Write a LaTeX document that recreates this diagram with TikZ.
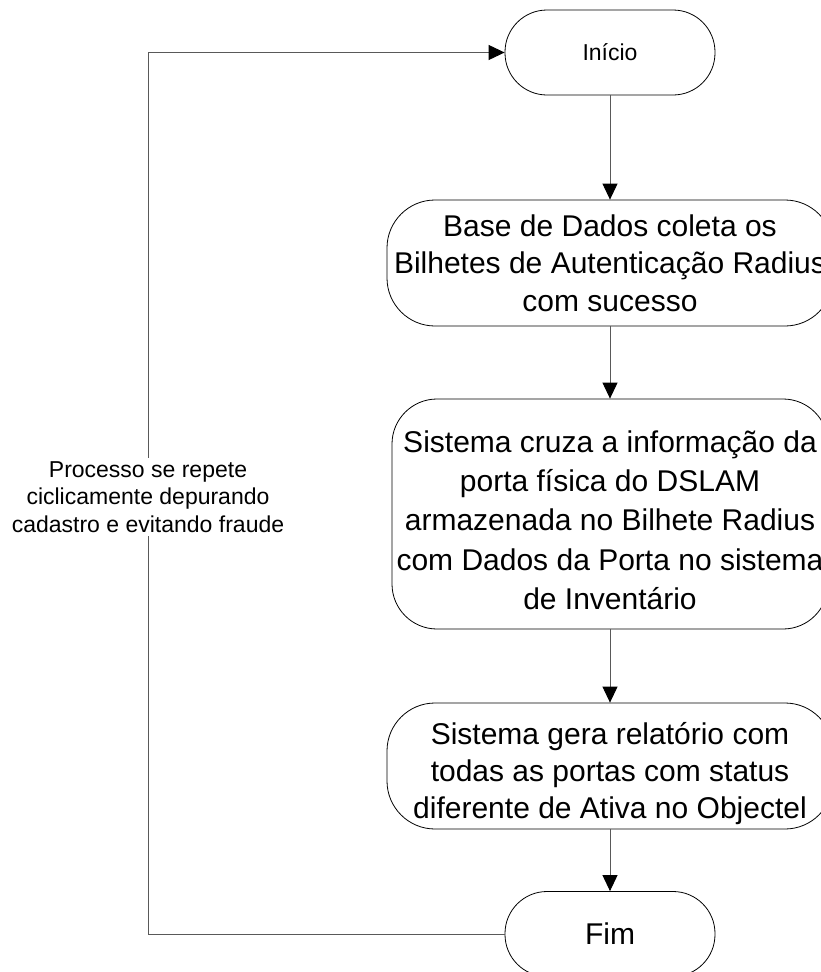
\documentclass[tikz,border=0pt]{standalone}
\usepackage{fontspec}
\setmainfont{Liberation Sans}
\usetikzlibrary{arrows.meta}
\begin{document}
\begin{tikzpicture}[x=1pt,y=-1pt,
  flowbox/.style={draw=black, line width=0.8pt, inner sep=0pt},
  boxtext/.style={align=center, inner sep=0pt, font=\fontsize{30}{#1}\selectfont},
  termbox/.style={flowbox, align=center, minimum width=210pt, minimum height=85pt, rounded corners=42pt,
    font=\fontsize{30}{36}\selectfont},
  conn/.style={draw=black!65, line width=1pt},
  arr/.style={conn, -{Triangle[width=15pt,length=16pt,color=black]}}
]
\useasboundingbox (0,0) rectangle (821,972);
\clip (0,0) rectangle (821,972);

\node[termbox, font=\fontsize{23}{27}\selectfont] (inicio) at (610,52.5) {Início};
\node[flowbox, minimum width=446pt, minimum height=126pt, rounded corners=48pt,
  label={[name=b2t, boxtext=37.5, yshift=0pt]center:{Base de Dados coleta os\\Bilhetes de Autenticação Radius\\com sucesso}}]
  (b2) at (610,263) {};
\node[flowbox, minimum width=436pt, minimum height=230pt, rounded corners=45pt,
  label={[name=b3t, boxtext=39.3, yshift=-6pt]center:{Sistema cruza a informação da\\porta física do DSLAM\\armazenada no Bilhete Radius\\com Dados da Porta no sistema\\de Inventário}}]
  (b3) at (610,514) {};
\node[flowbox, minimum width=446pt, minimum height=126pt, rounded corners=48pt,
  label={[name=b4t, boxtext=37, yshift=-7.5pt]center:{Sistema gera relatório com\\todas as portas com status\\diferente de Ativa no Objectel}}]
  (b4) at (610,766) {};
\node[termbox] (fim) at (610,934) {Fim};

\draw[arr] (inicio) -- (b2);
\draw[arr] (b2) -- (b3);
\draw[arr] (b3) -- (b4);
\draw[arr] (b4) -- (fim);

\coordinate (cb) at (148,934);
\coordinate (ct) at (148,52.5);
\draw[arr] (fim.west) -- (cb) -- (ct) -- (inicio.west);

\node[fill=white, align=center, inner xsep=2pt, inner ysep=3pt, font=\fontsize{23}{27.5}\selectfont] (lbl) at (148,497)
  {Processo se repete\\ciclicamente depurando\\cadastro e evitando fraude};
\end{tikzpicture}
\end{document}
